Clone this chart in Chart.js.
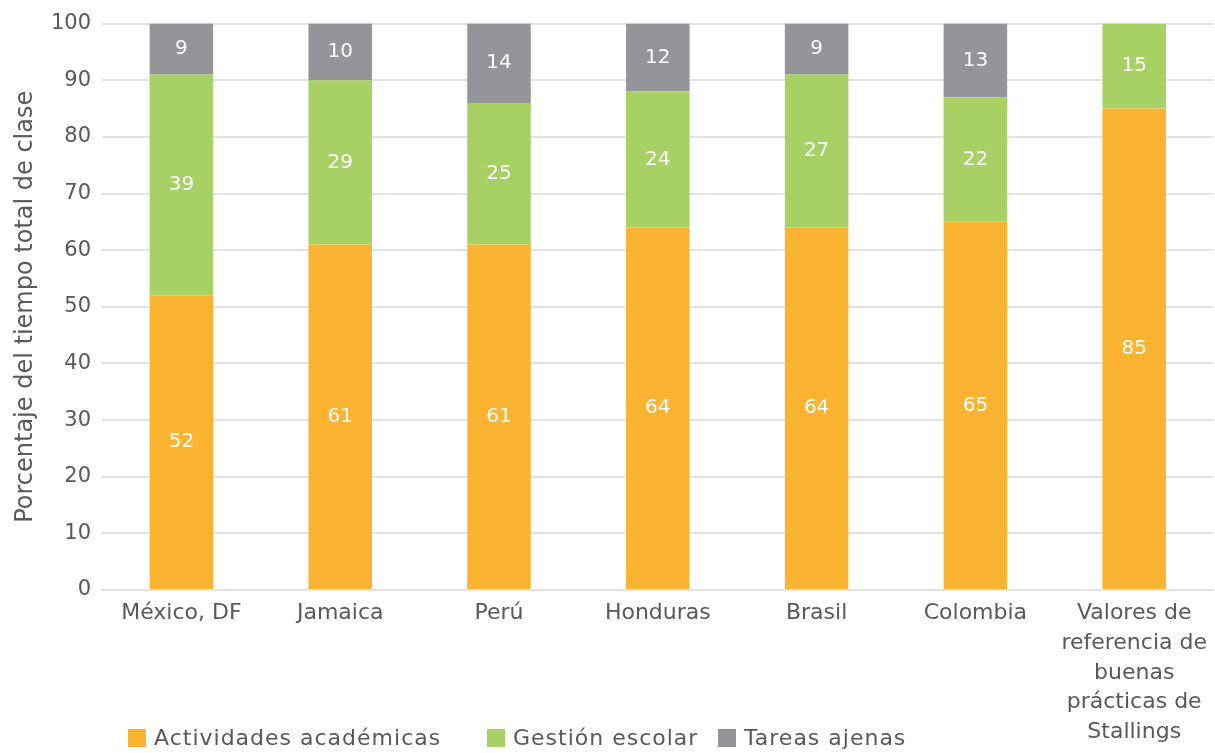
<!DOCTYPE html>
<html>
<head>
<meta charset="utf-8">
<script src="https://cdn.jsdelivr.net/npm/chart.js@4"></script>
<style>
  html, body { margin: 0; padding: 0; background: #fff; }
  #wrap { width: 1215px; height: 753px; }
</style>
</head>
<body>
<div id="wrap"><canvas id="myChart" width="1215" height="753"></canvas></div>
<script>
const categories = [
  "México, DF", "Jamaica", "Perú", "Honduras", "Brasil", "Colombia",
  ["Valores de", "referencia de", "buenas", "prácticas de", "Stallings"]
];
const academicas = [52, 61, 61, 64, 64, 65, 85];
const gestion = [39, 29, 25, 24, 27, 22, 15];
const ajenas = [9, 10, 14, 12, 9, 13, 0];
const yTicks = [0, 10, 20, 30, 40, 50, 60, 70, 80, 90, 100];

const FONT = "'DejaVu Sans', sans-serif";
const TEXT = "#595959";

// white numbers in the middle of each segment
const barLabels = {
  id: "barLabels",
  afterDatasetsDraw(chart) {
    const ctx = chart.ctx;
    ctx.save();
    ctx.fillStyle = "#fff";
    ctx.font = "20px " + FONT;
    ctx.textAlign = "center";
    ctx.textBaseline = "middle";
    chart.data.datasets.forEach((ds, i) => {
      chart.getDatasetMeta(i).data.forEach((bar, j) => {
        const v = ds.data[j];
        if (!v) return;
        ctx.fillText(String(v), bar.x, (bar.y + bar.base) / 2);
      });
    });
    ctx.restore();
  }
};

// legend drawn under the plot, sharing the row with the long last label
const bottomLegend = {
  id: "bottomLegend",
  afterDraw(chart) {
    const ctx = chart.ctx;
    const xs = [128, 487, 718];
    const y = 738;
    ctx.save();
    ctx.font = "22px " + FONT;
    ctx.textBaseline = "middle";
    ctx.textAlign = "left";
    ctx.letterSpacing = "1px";
    chart.data.datasets.forEach((ds, i) => {
      ctx.fillStyle = ds.backgroundColor;
      ctx.fillRect(xs[i], y - 9, 18, 18);
      ctx.fillStyle = TEXT;
      ctx.fillText(ds.label, xs[i] + 26, y + 1);
    });
    ctx.restore();
  }
};

new Chart(document.getElementById("myChart"), {
  type: "bar",
  data: {
    labels: categories,
    datasets: [
      { label: "Actividades académicas", data: academicas, backgroundColor: "#FBB431" },
      { label: "Gestión escolar", data: gestion, backgroundColor: "#A8D165" },
      { label: "Tareas ajenas", data: ajenas, backgroundColor: "#939598" }
    ]
  },
  options: {
    responsive: false,
    animation: false,
    layout: { padding: { top: 11, right: 0, left: 0, bottom: 0 } },
    plugins: {
      legend: { display: false },
      tooltip: { enabled: false }
    },
    datasets: {
      bar: { barPercentage: 0.4, categoryPercentage: 1 }
    },
    scales: {
      x: {
        stacked: true,
        grid: { display: false, drawTicks: false },
        border: { color: "#e3e3e3", width: 2 },
        ticks: {
          color: TEXT,
          font: { family: FONT, size: 22, lineHeight: 1.36 },
          padding: 8,
          maxRotation: 0,
          autoSkip: false
        },
        afterFit(scale) { scale.height = 163; }
      },
      y: {
        stacked: true,
        min: 0,
        max: 100,
        afterBuildTicks(scale) { scale.ticks = yTicks.map(v => ({ value: v })); },
        grid: { color: "#e3e3e3", lineWidth: 2, drawTicks: false },
        border: { display: false },
        ticks: {
          color: TEXT,
          font: { family: FONT, size: 21 },
          padding: 11
        },
        title: {
          display: true,
          text: "Porcentaje del tiempo total de clase",
          color: TEXT,
          font: { family: FONT, size: 24 },
          padding: { top: 11, bottom: 0 }
        },
        afterFit(scale) { scale.width = 102; }
      }
    }
  },
  plugins: [barLabels, bottomLegend]
});
</script>
</body>
</html>
